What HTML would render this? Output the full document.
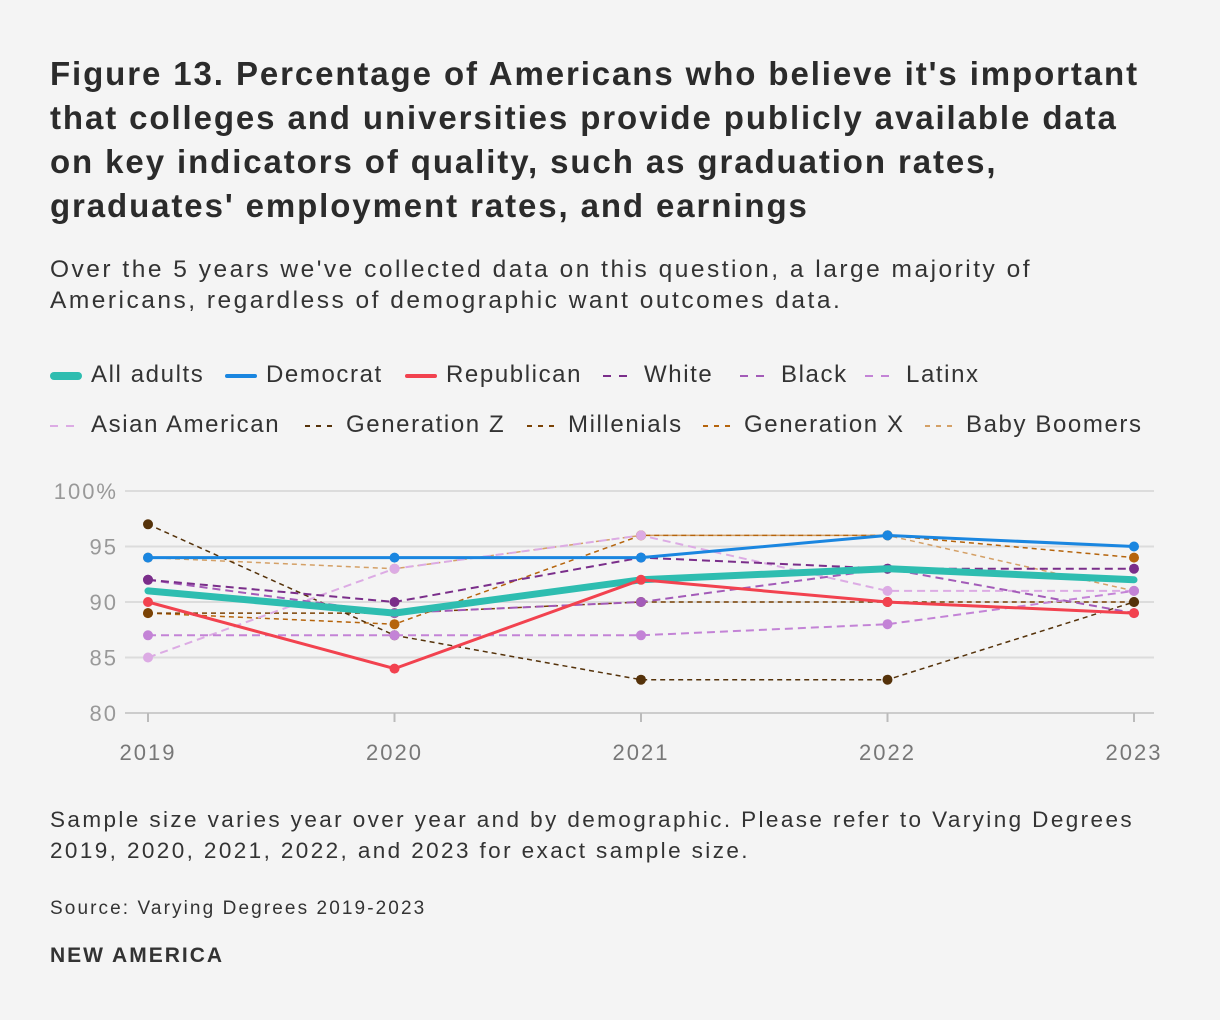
<!DOCTYPE html>
<html><head><meta charset="utf-8"><style>
body{margin:0;width:1220px;height:1020px;background:#f4f4f4;font-family:"Liberation Sans",sans-serif;color:#333;position:relative;overflow:hidden}
.t{position:absolute;left:50px;top:52px;width:1170px;font-size:33px;letter-spacing:1.9px;font-weight:bold;line-height:44px;color:#2b2b2b;white-space:nowrap}
.s{position:absolute;left:50px;top:254px;font-size:24.5px;letter-spacing:2.5px;line-height:31px;color:#333;white-space:nowrap}
.lg{position:absolute;font-size:24px;letter-spacing:1.6px;line-height:30px;color:#333;white-space:nowrap}
.n{position:absolute;left:50px;font-size:22.5px;letter-spacing:2.4px;line-height:31px;color:#333;white-space:nowrap}
</style></head><body>
<div class="t">Figure 13. Percentage of Americans who believe it's important<br>that colleges and universities provide publicly available data<br>on key indicators of quality, such as graduation rates,<br>graduates' employment rates, and earnings</div>
<div class="s">Over the 5 years we've collected data on this question, a large majority of<br>Americans, regardless of demographic want outcomes data.</div>
<div id="legend"></div>
<svg id="chart" width="1220" height="780" style="position:absolute;left:0;top:0"></svg>
<div class="n" style="top:804px">Sample size varies year over year and by demographic. Please refer to Varying Degrees<br>2019, 2020, 2021, 2022, and 2023 for exact sample size.</div>
<div class="n" style="top:893px;font-size:19px;letter-spacing:2.1px">Source: Varying Degrees 2019-2023</div>
<div class="n" style="top:940px;font-size:21px;letter-spacing:2px;font-weight:bold">NEW AMERICA</div>
<script>
const years=[2019,2020,2021,2022,2023];
const yTicks=[80,85,90,95,100];
const names=["All adults","Democrat","Republican","White","Black","Latinx","Asian American","Generation Z","Millenials","Generation X","Baby Boomers"];
const allAdults=[91,89,92,93,92];
const democrat=[94,94,94,96,95];
const republican=[90,84,92,90,89];
const white=[92,90,94,93,93];
const black=[92,89,90,93,89];
const latinx=[87,87,87,88,91];
const asian=[85,93,96,91,91];
const genZ=[97,87,83,83,90];
const millenials=[89,89,90,90,90];
const genX=[89,88,96,96,94];
const boomers=[94,93,96,96,91];
const values=[allAdults,democrat,republican,white,black,latinx,asian,genZ,millenials,genX,boomers];
const styles=[
{c:"#2ebdb0",w:7,d:""},{c:"#1a86e0",w:3,d:""},{c:"#f2424f",w:3,d:""},
{c:"#7a2e8a",w:2,d:"8,5"},{c:"#a35bb8",w:2,d:"8,5"},{c:"#c383d6",w:2,d:"8,5"},{c:"#dcabe4",w:2,d:"8,5"},
{c:"#55320a",w:1.5,d:"5,4"},{c:"#7a4205",w:1.5,d:"5,4"},{c:"#b5640c",w:1.5,d:"5,4"},{c:"#d4a066",w:1.5,d:"5,4"}];
const legPos=[[50,375],[225,375],[405,375],[603,375],[740,375],[865,375],[50,425],[305,425],[527,425],[703,425],[925,425]];
const x=i=>148+i*246.5;
const y=v=>713-(v-80)*11.1;
const svg=document.getElementById('chart');const NS="http://www.w3.org/2000/svg";
function mk(t,a){const e=document.createElementNS(NS,t);for(const k in a)e.setAttribute(k,a[k]);svg.appendChild(e);return e;}
yTicks.forEach(v=>{
 const g=mk('line',{x1:125,x2:1154,y1:y(v),y2:y(v),stroke:v===80?'#ccc':'#dcdcdc','stroke-width':2});
 
 
 const t=mk('text',{x:118,y:y(v)+8,'text-anchor':'end','font-size':22,'letter-spacing':2,fill:'#999','font-family':'Liberation Sans'});
 t.textContent=v===100?'100%':v;
 
 
});
years.forEach((yr,i)=>{
 const l=mk('line',{x1:x(i),x2:x(i),y1:713,y2:722,stroke:'#bbb','stroke-width':2});
 
 
 const t=mk('text',{x:x(i),y:760,'text-anchor':'middle','font-size':22,'letter-spacing':2,fill:'#777','font-family':'Liberation Sans'});
 t.textContent=yr;
 
 
});
const order=[10,9,8,7,6,5,4,3,0,1,2];
order.forEach(s=>{
 const st=styles[s];
 const p=mk('polyline',{points:values[s].map((v,i)=>x(i)+','+y(v)).join(' '),fill:'none',stroke:st.c,'stroke-width':st.w,'stroke-dasharray':st.d,'stroke-linejoin':'round','stroke-linecap':s===0?'round':'butt'});
 
 
 values[s].forEach((v,i)=>{
  const c=mk('circle',{cx:x(i),cy:y(v),r:s===0?0:5,fill:st.c});
  
  
 });
});
const leg=document.getElementById('legend');
names.forEach((n,s)=>{
 const st=styles[s];const [lx,ly]=legPos[s];
 const d=document.createElement('div');d.className='lg';d.style.left=lx+'px';d.style.top=(ly-15)+'px';
 
 
 const sw=st.d?`<svg width="32" height="10" style="vertical-align:middle;margin-right:9px"><line x1="0" y1="5" x2="32" y2="5" stroke="${st.c}" stroke-width="2" stroke-dasharray="${st.d==='8,5'?'8,8':'5,6'}"/></svg>`:
 `<svg width="32" height="10" style="vertical-align:middle;margin-right:9px"><line x1="${s===0?4:2}" y1="5" x2="${s===0?28:30}" y2="5" stroke="${st.c}" stroke-width="${s===0?8:4}" stroke-linecap="round"/></svg>`;
 d.innerHTML=sw+n;leg.appendChild(d);
});
</script>
</body></html>
